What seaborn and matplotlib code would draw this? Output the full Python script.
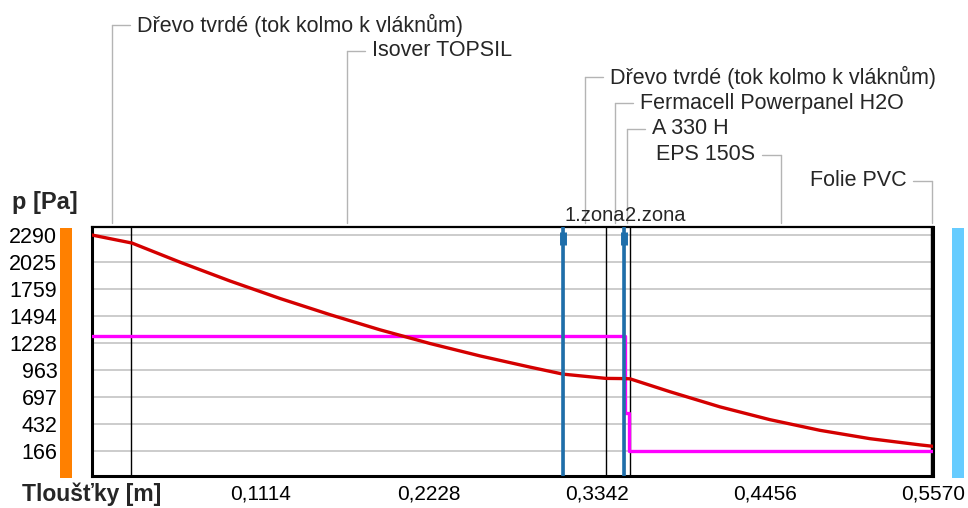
import matplotlib
matplotlib.use("Agg")
import matplotlib.pyplot as plt
import seaborn as sns
import pandas as pd
from matplotlib import transforms
from matplotlib.lines import Line2D
from matplotlib.patches import Rectangle

# ---------------- data ----------------
layer_names = ["Dřevo tvrdé (tok kolmo k vláknům)", "Isover TOPSIL",
               "Dřevo tvrdé (tok kolmo k vláknům)", "Fermacell Powerpanel H2O",
               "A 330 H", "EPS 150S", "Folie PVC"]
layer_edges = [0.0, 0.026, 0.312, 0.3404, 0.3525, 0.3563, 0.556, 0.557]
label_on_left = [False, False, False, False, False, True, True]

zone_names = ["1.zona", "2.zona"]
zone_x = [0.312, 0.3525]

# partial vapour pressure p [Pa]
p_x = [0.0, 0.0265, 0.0583, 0.0914, 0.1245, 0.1576, 0.1907, 0.2239, 0.2570,
       0.2901, 0.3119, 0.3404, 0.3525, 0.3563, 0.3828, 0.4159, 0.4490,
       0.4822, 0.5153, 0.5484, 0.5570]
p_vals = [2290, 2211, 2023, 1838, 1666, 1507, 1358, 1223, 1101,
          991, 922, 880, 878, 876, 749, 600, 474,
          369, 287, 226, 212]

# saturated vapour pressure p_sat [Pa]
psat_x = [0.0, 0.3530, 0.3530, 0.3555, 0.3555, 0.557]
psat_vals = [1300, 1300, 540, 540, 166, 166]

y_ticks = [166, 432, 697, 963, 1228, 1494, 1759, 2025, 2290]
x_ticks = [0.0, 0.0557, 0.1114, 0.1671, 0.2228, 0.2785, 0.3342, 0.3899, 0.4456, 0.5013, 0.5570]
x_tick_labels = ["", "", "0,1114", "", "0,2228", "", "0,3342", "", "0,4456", "", "0,5570"]

y_label = "p [Pa]"
x_label = "Tloušťky [m]"

# ---------------- style ----------------
sns.set_style("white")
plt.rcParams['font.family'] = ['Liberation Sans', 'DejaVu Sans']
FS = 15.5

W, H = 968, 508
fig = plt.figure(figsize=(W / 100, H / 100), dpi=100)
ax = fig.add_axes([92 / W, 1 - 476 / H, (933 - 92) / W, (476 - 227) / H])

df_p = pd.DataFrame({"x": p_x, "p": p_vals})
df_s = pd.DataFrame({"x": psat_x, "p": psat_vals})

ax.set_xlim(0, 0.557)
ax.set_ylim(-80, 2369)

# grid lines
for v in y_ticks:
    ax.axhline(v, color="#c8c8c8", lw=1.3, zorder=0)

# layer boundaries
for e in layer_edges[1:-1]:
    ax.axvline(e, color="black", lw=1.0, zorder=1)

sns.lineplot(data=df_s, x="x", y="p", sort=False, estimator=None, ax=ax,
             color="#ff00ff", lw=2.4, zorder=3)
sns.lineplot(data=df_p, x="x", y="p", sort=False, estimator=None, ax=ax,
             color="#d40000", lw=2.4, zorder=4)

# zones
for zx in zone_x:
    ax.axvline(zx, color="#1e6eaa", lw=2.6, zorder=5)
    ax.axvline(zx, ymin=0.928, ymax=0.98, color="#1e6eaa", lw=5.0, zorder=5,
               solid_capstyle="butt")

ax.set_xticks(x_ticks)
ax.set_xticklabels(x_tick_labels)
ax.set_yticks(y_ticks)
ax.set_yticklabels([str(v) for v in y_ticks])
ax.tick_params(axis="x", direction="in", length=6, width=1.2, color="#b4b4b4",
               labelsize=15, pad=6, labelcolor="black")
ax.tick_params(axis="y", direction="in", length=3, width=1.0, color="#b4b4b4",
               labelsize=FS, pad=25, labelcolor="black")
ax.set_xlabel("")
ax.set_ylabel("")
for s in ["left", "bottom", "right"]:
    ax.spines[s].set_linewidth(2.2)
    ax.spines[s].set_color("black")
ax.spines["top"].set_linewidth(1.6)
ax.spines["top"].set_color("black")

fig.canvas.draw()
ident = transforms.IdentityTransform()
ax_top_disp = ax.transAxes.transform((0, 1))[1]

# leader labels
for i, name in enumerate(layer_names):
    c = (layer_edges[i] + layer_edges[i + 1]) / 2
    xd = ax.transData.transform((c, 0))[0]
    yd = H - (25 + 26 * i)
    fig.add_artist(Line2D([xd, xd], [yd, ax_top_disp + 4], transform=ident,
                          color="#b4b4b4", lw=1.0))
    if label_on_left[i]:
        fig.add_artist(Line2D([xd - 19, xd], [yd, yd], transform=ident,
                              color="#b4b4b4", lw=1.0))
        fig.text(xd - 26, yd, name, transform=ident, ha="right", va="center",
                 fontsize=FS)
    else:
        fig.add_artist(Line2D([xd, xd + 18], [yd, yd], transform=ident,
                              color="#b4b4b4", lw=1.0))
        fig.text(xd + 25, yd, name, transform=ident, ha="left", va="center",
                 fontsize=FS)

# zone labels
for zx, zn in zip(zone_x, zone_names):
    xd = ax.transData.transform((zx, 0))[0]
    fig.text(xd + 1, ax_top_disp + 6, zn, transform=ident, ha="left",
             va="baseline", fontsize=14.5)

# side bars
fig.add_artist(Rectangle((60, H - 478), 12, 250, transform=ident,
                         color="#ff8000", lw=0))
fig.add_artist(Rectangle((952, H - 478), 12, 250, transform=ident,
                         color="#66ccff", lw=0))

fig.text(12 / W, 1 - 202 / H, y_label, fontsize=17, fontweight="bold",
         ha="left", va="center")
fig.text(22 / W, 1 - 494 / H, x_label, fontsize=16.5, fontweight="bold",
         ha="left", va="center")

fig.savefig("out.png", dpi=100)
